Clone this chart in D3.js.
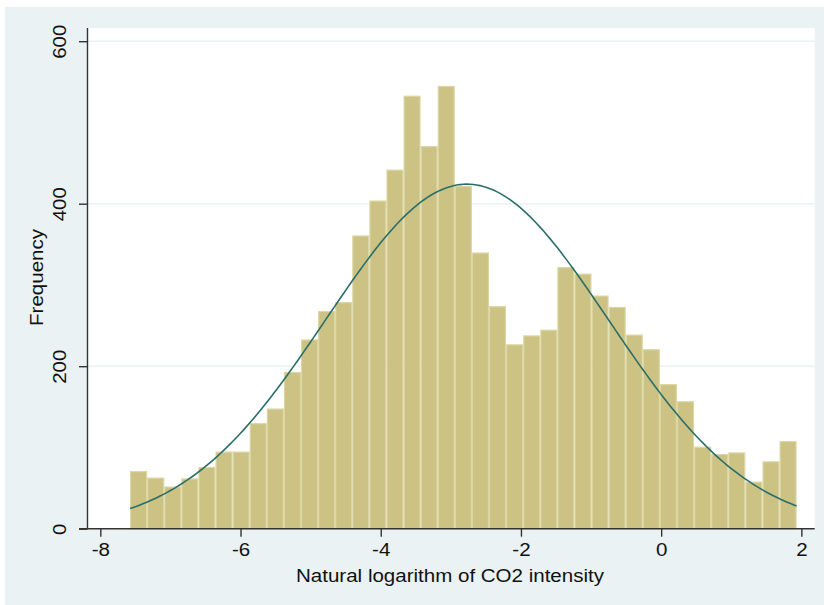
<!DOCTYPE html>
<html>
<head>
<meta charset="utf-8">
<script src="https://cdn.jsdelivr.net/npm/d3@7"></script>
<style>
  html, body { margin: 0; padding: 0; background: #ffffff; }
  svg { display: block; }
  text { font-family: "Liberation Sans", Arial, sans-serif; fill: #111; }
</style>
</head>
<body>
<svg id="chart" width="824" height="605"></svg>
<script>
// Histogram of ln(CO2 intensity): 39 equal-width bins
const binStart = -7.576;
const binWidth = 0.2438;
const frequencies = [
  71, 63, 52, 62, 76, 95, 95, 130, 148, 193,
  233, 268, 279, 361, 404, 442, 533, 471, 545, 422,
  340, 274, 227, 238, 245, 322, 314, 287, 273, 239,
  221, 178, 157, 101, 92, 94, 58, 83, 108
];
// Normal density overlay parameters
const normalMean = -2.769;
const normalSD = 2.017;
const xTicks = [-8, -6, -4, -2, 0, 2];
const yTicks = [0, 200, 400, 600];
const xTitle = "Natural logarithm of CO2 intensity";
const yTitle = "Frequency";

const svg = d3.select("#chart");
const W = 824, H = 605;
const plot = { left: 87.5, right: 814.7, top: 28, bottom: 528.7 };
const fontSize = "18.5px";
const stretch = "scale(1.11,1)";

// Graph region background
svg.append("rect").attr("x", 5).attr("y", 7).attr("width", W - 5).attr("height", H - 7)
  .attr("fill", "#eaf2f3");
svg.append("rect").attr("x", plot.left).attr("y", plot.top)
  .attr("width", plot.right - plot.left).attr("height", plot.bottom - plot.top)
  .attr("fill", "#ffffff");

const x = d3.scaleLinear().domain([-8.183, 2.19]).range([plot.left, plot.right]);
const y = d3.scaleLinear().domain([0, 600]).range([plot.bottom, 41.2]);

// Horizontal grid lines
svg.append("g").selectAll("line").data(yTicks.filter(d => d > 0)).join("line")
  .attr("x1", plot.left).attr("x2", plot.right)
  .attr("y1", d => y(d)).attr("y2", d => y(d))
  .attr("stroke", "#eaf2f3").attr("stroke-width", 1.5);

// Bars
const bins = frequencies.map((f, i) => ({ x0: binStart + i * binWidth, x1: binStart + (i + 1) * binWidth, f }));
svg.append("g").selectAll("rect").data(bins).join("rect")
  .attr("x", d => x(d.x0) + 0.6)
  .attr("width", d => x(d.x1) - x(d.x0) - 1.2)
  .attr("y", d => y(d.f) + 0.6)
  .attr("height", d => y(0) - y(d.f) - 0.6)
  .attr("fill", "#cbc283")
  .attr("stroke", "#dbd6a2")
  .attr("stroke-width", 1.2);

// Normal curve scaled to counts
const N = d3.sum(frequencies);
const xEnd = binStart + frequencies.length * binWidth;
const density = v => N * binWidth / (normalSD * Math.sqrt(2 * Math.PI)) *
  Math.exp(-0.5 * Math.pow((v - normalMean) / normalSD, 2));
const curvePts = d3.range(0, 201).map(i => binStart + (xEnd - binStart) * i / 200);
svg.append("path")
  .datum(curvePts)
  .attr("d", d3.line().x(v => x(v)).y(v => y(density(v))))
  .attr("fill", "none")
  .attr("stroke", "#2a6e69")
  .attr("stroke-width", 1.6);

// Y axis
const yAxis = svg.append("g").attr("transform", `translate(${plot.left},0)`)
  .call(d3.axisLeft(y).tickValues(yTicks).tickSize(8.5).tickPadding(0).tickFormat(d => String(d)));
yAxis.select(".domain").attr("d", `M0,${plot.top}V${plot.bottom}`).attr("stroke", "#333").attr("stroke-width", 1.4);
yAxis.selectAll(".tick line").attr("stroke", "#333").attr("stroke-width", 1.4);
yAxis.selectAll(".tick text")
  .attr("transform", `translate(-22,0) rotate(-90) ${stretch}`)
  .attr("x", 0).attr("y", 0).attr("dy", 0)
  .attr("text-anchor", "middle")
  .style("font-size", fontSize).style("font-family", "Liberation Sans, Arial, sans-serif").attr("fill", "#111");

// X axis
const xAxis = svg.append("g").attr("transform", `translate(0,${plot.bottom})`)
  .call(d3.axisBottom(x).tickValues(xTicks).tickSize(8).tickPadding(0).tickFormat(d => d < 0 ? "-" + Math.abs(d) : String(d)));
xAxis.select(".domain").attr("d", `M${plot.left - 8.5},0H${plot.right}`).attr("stroke", "#333").attr("stroke-width", 1.4);
xAxis.selectAll(".tick line").attr("stroke", "#333").attr("stroke-width", 1.4);
xAxis.selectAll(".tick text")
  .attr("transform", `translate(0,27) ${stretch}`)
  .attr("y", 0).attr("dy", 0)
  .style("font-size", fontSize).style("font-family", "Liberation Sans, Arial, sans-serif").attr("fill", "#111");

// Axis titles
svg.append("text").attr("transform", `translate(450,582) ${stretch}`)
  .attr("text-anchor", "middle").style("font-size", fontSize).text(xTitle);
svg.append("text").attr("transform", `translate(43,277.5) rotate(-90) ${stretch}`)
  .attr("text-anchor", "middle").style("font-size", fontSize).text(yTitle);
</script>
</body>
</html>
